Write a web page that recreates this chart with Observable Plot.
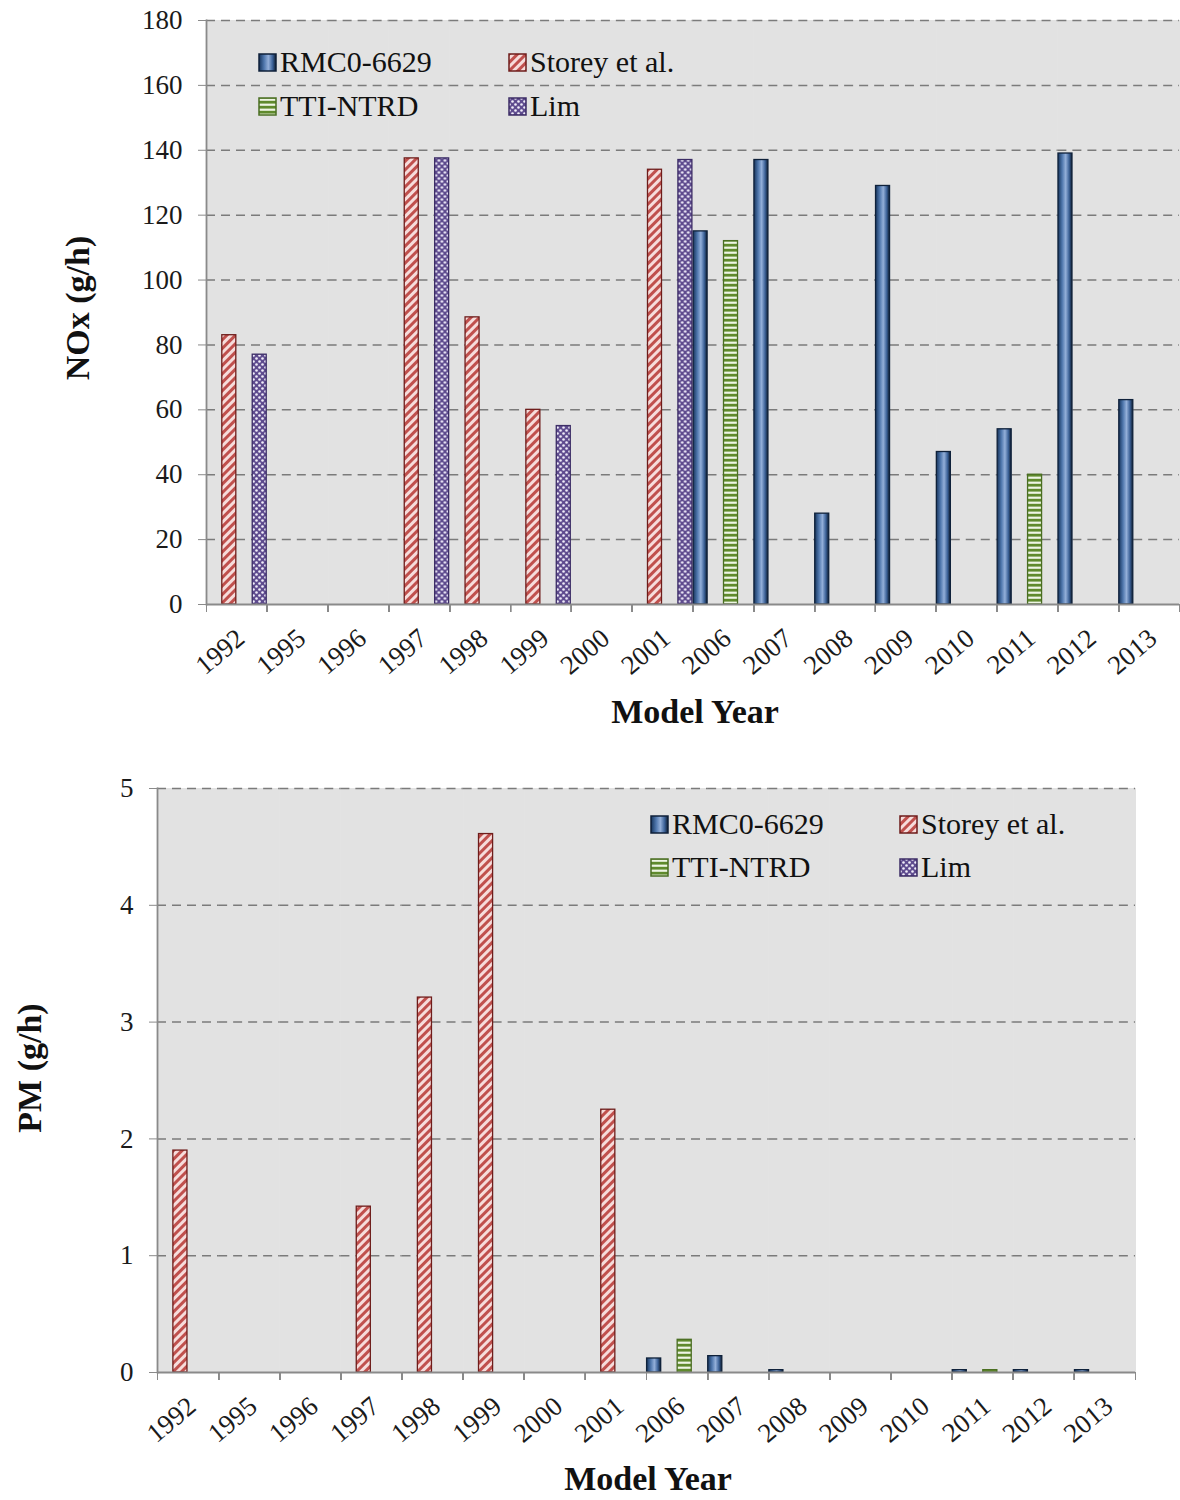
<!DOCTYPE html>
<html><head><meta charset="utf-8">
<script src="https://cdn.jsdelivr.net/npm/d3@7"></script>
<script src="https://cdn.jsdelivr.net/npm/@observablehq/plot@0.6"></script>
<style>
body{margin:0;background:#fff;}
#wrap{position:relative;width:1180px;height:1500px;font-family:"Liberation Serif","Times New Roman",serif;color:#111;overflow:hidden;}
.chart{position:absolute;left:0;}
.ax{position:absolute;font-weight:bold;font-size:34px;white-space:nowrap;line-height:1;transform:translate(-50%,-50%);}
.ax.rot{transform:translate(-50%,-50%) rotate(-90deg);}
.leg{position:absolute;font-size:30px;line-height:1;white-space:nowrap;}
.sw{position:absolute;}
</style>
</head><body>
<svg width="0" height="0" style="position:absolute">
<defs>
 <linearGradient id="gRMC" x1="0" x2="1" y1="0" y2="0">
   <stop offset="0" stop-color="#16345c"/>
   <stop offset="0.3" stop-color="#4f77ad"/>
   <stop offset="0.55" stop-color="#93afd9"/>
   <stop offset="0.8" stop-color="#3b6197"/>
   <stop offset="1" stop-color="#0d1b2e"/>
 </linearGradient>
 <pattern id="pStorey" patternUnits="userSpaceOnUse" width="6" height="6" patternTransform="rotate(45)">
   <rect width="6" height="6" fill="#f6dcdb"/>
   <rect width="3" height="6" fill="#c0504d"/>
 </pattern>
 <pattern id="pTTI" patternUnits="userSpaceOnUse" width="6" height="5">
   <rect width="6" height="5" fill="#5f8a2c"/>
   <rect y="1.6" width="6" height="2.2" fill="#eef5e4"/>
 </pattern>
 <pattern id="pLim" patternUnits="userSpaceOnUse" width="6" height="6">
   <rect width="6" height="6" fill="#5e4b8e"/>
   <circle cx="1.5" cy="1.5" r="1.3" fill="#f1eefa"/>
   <circle cx="4.5" cy="4.5" r="1.3" fill="#f1eefa"/>
 </pattern>
</defs></svg>
<div id="wrap"></div>
<script>
// ---- data ----
const years = ["1992","1995","1996","1997","1998","1999","2000","2001","2006","2007","2008","2009","2010","2011","2012","2013"];
const seriesNames = ["RMC0-6629","Storey et al.","TTI-NTRD","Lim"];
// NOx (g/h)
const noxRMC    = [null,null,null,null,null,null,null,null,115,137,28,129,47,54,139,63];
const noxStorey = [83,null,null,137.5,88.5,60,null,134,null,null,null,null,null,null,null,null];
const noxTTI    = [null,null,null,null,null,null,null,null,112,null,null,null,null,40,null,null];
const noxLim    = [77,null,null,137.5,null,55,null,137,null,null,null,null,null,null,null,null];
// PM (g/h)
const pmRMC    = [null,null,null,null,null,null,null,null,0.12,0.14,0.02,null,null,0.02,0.02,0.02];
const pmStorey = [1.9,null,null,1.42,3.21,4.61,null,2.25,null,null,null,null,null,null,null,null];
const pmTTI    = [null,null,null,null,null,null,null,null,0.28,null,null,null,null,0.02,null,null];
const pmLim    = [null,null,null,null,null,null,null,null,null,null,null,null,null,null,null,null];
const noxTicks = [0,20,40,60,80,100,120,140,160,180];
const pmTicks  = [0,1,2,3,4,5];

const styles = {
  "RMC0-6629":     {fill:"url(#gRMC)",    stroke:"#0f213a"},
  "Storey et al.": {fill:"url(#pStorey)", stroke:"#6e1d1b"},
  "TTI-NTRD":      {fill:"url(#pTTI)",    stroke:"#4a6e22"},
  "Lim":           {fill:"url(#pLim)",    stroke:"#3c2d66"}
};

function table(cols){
  const rows = [];
  seriesNames.forEach((s,i) => cols[i].forEach((v,j) => { if (v != null) rows.push({year: years[j], series: s, value: v}); }));
  return rows;
}

function chart({data, ticks, width, height, mt, mb, ml, mr}) {
  const bw = (width - ml - mr) / years.length;
  const axisCol = "#8a8a8a";
  return Plot.plot({
    width, height, marginTop: mt, marginBottom: mb, marginLeft: ml, marginRight: mr,
    style: {fontFamily: "'Liberation Serif', serif", background: "transparent", overflow: "visible"},
    fx: {domain: years, padding: 0, round: false},
    x: {domain: seriesNames, padding: 0, round: false, axis: null},
    y: {domain: [ticks[0], ticks[ticks.length-1]]},
    marks: [
      // one baseline per model year keeps every facet present
      Plot.ruleY(years, {fx: d => d, y: 0, stroke: "none"}),
      Plot.frame({fill: "#e2e2e2", stroke: "#e2e2e2"}),
      Plot.gridY(ticks.filter(t => t > 0), {stroke: "#7b7b7b", strokeOpacity: 1, strokeDasharray: "9,6", strokeWidth: 1.5}),
      ...seriesNames.map(s => Plot.barY(data.filter(d => d.series === s), {
        fx: "year", x: "series", y: "value",
        fill: styles[s].fill, stroke: styles[s].stroke, strokeWidth: 1.3, insetLeft: 0.6, insetRight: 0.6
      })),
      Plot.ruleY(years, {fx: d => d, y: 0, stroke: axisCol, strokeWidth: 1.8}),
      Plot.frame({anchor: "left", stroke: axisCol, strokeWidth: 1.8, facetAnchor: "left"}),
      Plot.axisY(ticks, {tickSize: 8, tickPadding: 16, fontSize: 27, stroke: axisCol, fill: "#1a1a1a", label: null, tickFormat: d => String(d)}),
      Plot.axisFx({anchor: "bottom", tickSize: 0, tickPadding: 30, tickRotate: -40, fontSize: 27, fill: "#1a1a1a", dx: 4, label: null}),
      Plot.axisFx(years, {anchor: "bottom", tickSize: 8, tickFormat: () => "", dx: -bw/2, stroke: axisCol, label: null}),
      Plot.axisFx([years[years.length-1]], {anchor: "bottom", tickSize: 8, tickFormat: () => "", dx: bw/2, stroke: axisCol, label: null})
    ]
  });
}

const wrap = document.getElementById("wrap");

const top1 = chart({data: table([noxRMC, noxStorey, noxTTI, noxLim]), ticks: noxTicks,
  width: 1180, height: 745, mt: 20, mb: 141, ml: 206, mr: 1});
top1.classList.add("chart"); top1.style.top = "0px";
wrap.appendChild(top1);

const bot = chart({data: table([pmRMC, pmStorey, pmTTI, pmLim]), ticks: pmTicks,
  width: 1180, height: 755, mt: 43, mb: 128, ml: 157, mr: 45});
bot.classList.add("chart"); bot.style.top = "745px";
wrap.appendChild(bot);

// axis titles
function addText(cls, txt, x, y) {
  const d = document.createElement("div");
  d.className = cls; d.textContent = txt;
  d.style.left = x + "px"; d.style.top = y + "px";
  wrap.appendChild(d);
}
addText("ax rot", "NOx (g/h)", 78, 308);
addText("ax", "Model Year", 695, 712);
addText("ax rot", "PM (g/h)", 30, 1068);
addText("ax", "Model Year", 648, 1479);

// legends
function legend(x0, x1, y0, y1) {
  const pos = {
    "RMC0-6629": [x0, y0], "Storey et al.": [x1, y0],
    "TTI-NTRD": [x0, y1], "Lim": [x1, y1]
  };
  seriesNames.forEach(s => {
    const [x, y] = pos[s];
    const sw = document.createElementNS("http://www.w3.org/2000/svg", "svg");
    sw.setAttribute("class", "sw"); sw.setAttribute("width", 19); sw.setAttribute("height", 19);
    sw.style.left = x + "px"; sw.style.top = (y + 6) + "px";
    const r = document.createElementNS("http://www.w3.org/2000/svg", "rect");
    r.setAttribute("x", 1); r.setAttribute("y", 1); r.setAttribute("width", 17); r.setAttribute("height", 17);
    r.setAttribute("fill", styles[s].fill); r.setAttribute("stroke", styles[s].stroke); r.setAttribute("stroke-width", 1.5);
    sw.appendChild(r);
    wrap.appendChild(sw);
    const t = document.createElement("div");
    t.className = "leg"; t.textContent = s;
    t.style.left = (x + 22) + "px"; t.style.top = y + "px";
    wrap.appendChild(t);
  });
}
legend(258, 508, 47, 91);
legend(650, 899, 809, 852);
</script>
</body></html>
